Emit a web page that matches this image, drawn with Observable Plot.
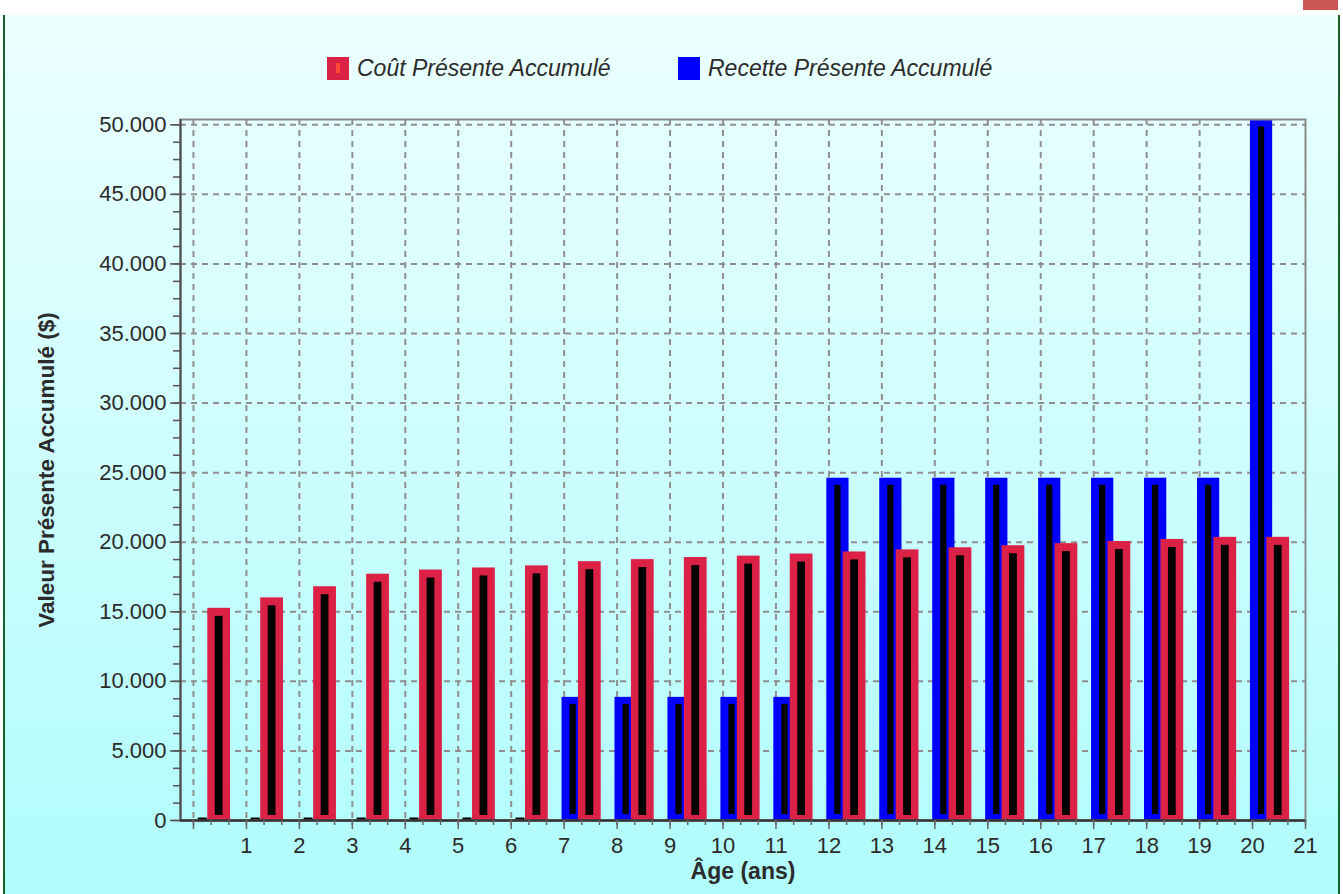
<!DOCTYPE html>
<html>
<head>
<meta charset="utf-8">
<script src="https://cdn.jsdelivr.net/npm/d3@7"></script>
<script src="https://cdn.jsdelivr.net/npm/@observablehq/plot@0.6"></script>
<style>
  body { margin: 0; background: #fff; width: 1343px; height: 894px; overflow: hidden; position: relative;
         font-family: "Liberation Sans", Arial, sans-serif; }
  #panel { position: absolute; left: 3px; top: 15px; width: 1333px; height: 879px;
           border-left: 2px solid #17602f; border-right: 2px solid #17602f;
           background: linear-gradient(#ecffff, #b0fcfc); }
  #close { position: absolute; left: 1303px; top: 0; width: 35px; height: 10px; background: #cc5555; }
  #legend { position: absolute; left: 0; top: 57px; width: 1343px; height: 23px; }
  .item { position: absolute; top: 0; height: 23px; display: flex; align-items: center;
          font-style: italic; font-size: 23px; color: #2b2b2b; white-space: nowrap; }
  .sw { width: 22px; height: 23px; margin-right: 8px; position: relative; flex: none; }
  .sw .mark { position: absolute; left: 9px; top: 6px; width: 4px; height: 10px; background: #ff4a3a; }
  #chart { position: absolute; left: 0; top: 100px; }
</style>
</head>
<body>
<div id="panel"></div>
<div id="close"></div>
<div id="legend"></div>
<div id="chart"></div>
<script>
// Age in years (one group of bars per year)
const ages = [0, 1, 2, 3, 4, 5, 6, 7, 8, 9, 10, 11, 12, 13, 14, 15, 16, 17, 18, 19, 20];
// Accumulated present cost ($)
const cout = [15250, 16000, 16800, 17700, 18000, 18150, 18300, 18600, 18750, 18900, 19000,
              19150, 19300, 19450, 19600, 19750, 19900, 20050, 20200, 20350, 20350];
// Accumulated present revenue ($)
const recette = [0, 0, 0, 0, 0, 0, 0, 8850, 8850, 8850, 8850, 8850,
                 24600, 24600, 24600, 24600, 24600, 24600, 24600, 24600, 50350];
const seriesNames = ["Coût Présente Accumulé", "Recette Présente Accumulé"];
const seriesColors = ["#dc2147", "#0000ff"];
const yTicks = [0, 5000, 10000, 15000, 20000, 25000, 30000, 35000, 40000, 45000, 50000];
const xTickLabels = [1, 2, 3, 4, 5, 6, 7, 8, 9, 10, 11, 12, 13, 14, 15, 16, 17, 18, 19, 20, 21];

const rows = ages.map((age, i) => ({age, cout: cout[i], recette: recette[i]}));
const xDomain = [-0.245, 21];
const yDomain = [0, 50380];
const yMinor = d3.range(0, 50001, 1250);
const xMinor = d3.range(0, 64).map(i => i / 3);

const fmt = d3.formatLocale({decimal: ",", thousands: ".", grouping: [3], currency: ["$", ""]}).format(",d");

// legend
const legend = document.getElementById("legend");
const legendX = [327, 678];
seriesNames.forEach((name, i) => {
  const item = document.createElement("div");
  item.className = "item";
  item.style.left = legendX[i] + "px";
  const sw = document.createElement("div");
  sw.className = "sw";
  sw.style.background = seriesColors[i];
  if (i === 0) { const m = document.createElement("div"); m.className = "mark"; sw.appendChild(m); }
  item.appendChild(sw);
  item.appendChild(document.createTextNode(name));
  legend.appendChild(item);
});

const grid = {stroke: "#8f8f8f", strokeOpacity: 1, strokeWidth: 2, strokeDasharray: "6,5"};
const blueSpan = {x1: d => d.age - 0.04, x2: d => d.age + 0.38};
const redSpan = {x1: d => d.age + 0.27, x2: d => d.age + 0.70};

const chart = Plot.plot({
  width: 1343,
  height: 794,
  marginLeft: 180,
  marginRight: 38,
  marginTop: 19,
  marginBottom: 74,
  x: {domain: xDomain, label: null},
  y: {domain: yDomain, label: null},
  style: {background: "transparent", fontFamily: "'Liberation Sans', Arial, sans-serif", fontSize: "22px", color: "#2b2b2b", overflow: "visible"},
  marks: [
    Plot.gridY(yTicks, grid),
    Plot.gridX(ages, grid),
    // revenue bars (behind)
    Plot.rect(rows.filter(d => d.recette > 0), {...blueSpan, y1: 0, y2: "recette", fill: seriesColors[1]}),
    Plot.rect(rows.filter(d => d.recette > 0), {...blueSpan, y1: 0, y2: "recette", fill: "#000",
      insetLeft: 8, insetRight: 8, insetTop: 7, insetBottom: 6}),
    Plot.ruleY(rows.filter(d => d.recette === 0), {y: "recette", x1: d => d.age + 0.09, x2: d => d.age + 0.26,
      stroke: "#000", strokeWidth: 3, dy: -1.5}),
    // cost bars (front)
    Plot.rect(rows, {...redSpan, y1: 0, y2: "cout", fill: seriesColors[0]}),
    Plot.rect(rows, {...redSpan, y1: 0, y2: "cout", fill: "#000",
      insetLeft: 7.5, insetRight: 7.5, insetTop: 8, insetBottom: 5}),
    Plot.frame({stroke: "#8a8a8a", strokeWidth: 2}),
    Plot.ruleY([yDomain[0]], {stroke: "#333", strokeWidth: 2.5}),
    Plot.ruleX([xDomain[0]], {stroke: "#4a4a4a", strokeWidth: 2}),
    // axes
    Plot.axisY(yMinor, {tickSize: 7, tickFormat: () => "", stroke: "#555", strokeWidth: 1.5, label: null}),
    Plot.axisY(yTicks, {tickSize: 10, tickPadding: 4, tickFormat: fmt, stroke: "#555", strokeWidth: 1.5, fill: "#2b2b2b", label: null}),
    Plot.axisX(xMinor, {tickSize: 5, tickFormat: () => "", stroke: "#666", strokeWidth: 1.5, label: null}),
    Plot.axisX([0], {tickSize: 9, tickFormat: () => "", stroke: "#666", strokeWidth: 1.5, label: null}),
    Plot.axisX(xTickLabels, {tickSize: 9, tickPadding: 8, tickFormat: d => String(d), stroke: "#666", strokeWidth: 1.5, fill: "#2b2b2b", label: null}),
    Plot.text(["Valeur Présente Accumulé ($)"], {text: d => d, frameAnchor: "left", textAnchor: "middle", dx: -134, rotate: -90,
      fontWeight: "bold", fontSize: 22.5, fill: "#2b2b2b"}),
    Plot.text(["Âge (ans)"], {text: d => d, frameAnchor: "bottom", textAnchor: "middle", dy: 58, fontWeight: "bold", fontSize: 23, fill: "#2b2b2b"})
  ]
});
document.getElementById("chart").appendChild(chart);
</script>
</body>
</html>
